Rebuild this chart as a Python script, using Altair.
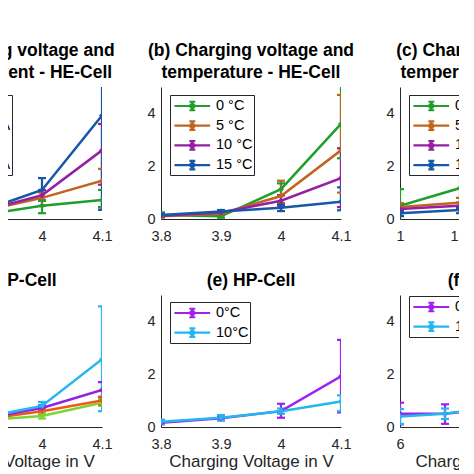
import altair as alt
import pandas as pd

# x positions
volt = [3.8, 3.9, 4.0, 4.1]
curr_he = [1.0, 1.5, 2.0, 2.5]
curr_hp = [6, 8, 10, 12, 14]

# (a) HE-Cell: charging voltage and current
a_labels = ["1 A", "1.5 A", "2 A", "2.5 A"]
a_colors = ["#1f9e2c", "#c0641e", "#951fa3", "#1658a5"]
a_mean = [[0.10, 0.15, 0.50, 0.72],
          [0.10, 0.30, 0.80, 1.45],
          [0.10, 0.30, 0.90, 2.60],
          [0.12, 0.30, 1.10, 3.92]]
a_low = [[0.05, 0.10, 0.22, 0.45],
         [0.05, 0.20, 0.50, 0.35],
         [0.05, 0.20, 0.70, 1.30],
         [0.05, 0.20, 0.70, 0.35]]
a_high = [[0.15, 0.20, 0.70, 1.10],
          [0.15, 0.40, 1.00, 1.90],
          [0.15, 0.40, 1.10, 3.60],
          [0.20, 0.40, 1.55, 5.60]]

# (b) HE-Cell: charging voltage and temperature
b_labels = ["0 °C", "5 °C", "10 °C", "15 °C"]
b_mean = [[0.15, 0.10, 1.13, 3.60],
          [0.10, 0.20, 0.87, 2.60],
          [0.12, 0.25, 0.69, 1.55],
          [0.15, 0.28, 0.43, 0.65]]
b_low = [[0.10, 0.05, 0.90, 2.30],
         [0.05, 0.15, 0.60, 1.00],
         [0.08, 0.20, 0.50, 0.45],
         [0.10, 0.22, 0.30, 0.33]]
b_high = [[0.25, 0.15, 1.35, 5.30],
          [0.15, 0.25, 1.45, 4.70],
          [0.16, 0.30, 0.90, 2.68],
          [0.20, 0.34, 0.55, 1.20]]

# (c) HE-Cell: charge current and temperature
c_mean = [[0.50, 1.17, 1.20, 1.50],
          [0.45, 0.62, 1.10, 1.60],
          [0.38, 0.50, 0.70, 0.90],
          [0.22, 0.34, 0.40, 0.50]]
c_low = [[0.10, 0.60, 0.80, 1.00],
         [0.30, 0.45, 0.80, 1.10],
         [0.28, 0.38, 0.50, 0.65],
         [0.12, 0.22, 0.30, 0.35]]
c_high = [[1.13, 1.70, 1.60, 2.00],
          [0.60, 0.80, 1.40, 2.10],
          [0.48, 0.62, 0.90, 1.15],
          [0.32, 0.45, 0.50, 0.65]]

# (d) HP-Cell: charging voltage and current
d_labels = ["2 A", "4 A", "6 A", "8 A"]
d_colors = ["#7cd434", "#ee5a14", "#8e22e6", "#25b6ee"]
d_mean = [[0.10, 0.25, 0.42, 0.92],
          [0.12, 0.28, 0.60, 1.00],
          [0.14, 0.30, 0.72, 1.40],
          [0.16, 0.35, 0.80, 2.57]]
d_low = [[0.05, 0.20, 0.32, 0.80],
         [0.08, 0.22, 0.50, 0.85],
         [0.10, 0.25, 0.62, 1.10],
         [0.10, 0.28, 0.70, 0.60]]
d_high = [[0.15, 0.30, 0.52, 1.05],
          [0.16, 0.34, 0.70, 1.15],
          [0.18, 0.35, 0.82, 1.70],
          [0.22, 0.42, 0.95, 4.57]]

# (e) HP-Cell: charging voltage and temperature
e_labels = ["0°C", "10°C"]
e_colors = ["#a020f0", "#22b8ee"]
e_mean = [[0.16, 0.33, 0.60, 1.92],
          [0.20, 0.35, 0.60, 0.97]]
e_low = [[0.10, 0.25, 0.35, 0.55],
         [0.12, 0.25, 0.50, 0.60]]
e_high = [[0.22, 0.42, 0.88, 3.30],
          [0.28, 0.45, 0.70, 1.20]]

# (f) HP-Cell: charge current and temperature
f_mean = [[0.50, 0.50, 0.70, 0.90, 1.20],
          [0.40, 0.50, 0.75, 0.90, 1.10]]
f_low = [[0.10, 0.12, 0.40, 0.60, 0.80],
         [0.12, 0.30, 0.55, 0.70, 0.85]]
f_high = [[0.92, 0.86, 1.00, 1.20, 1.60],
          [0.68, 0.70, 0.95, 1.10, 1.35]]

FONT = "Liberation Sans"
# legend glyph: line, error bar with caps, diamond marker
ERR_PATH = ("M-2.1,0H2.1M0,-0.5V0.5M-0.35,-0.5H0.35M-0.35,0.5H0.35"
            "M0,-0.32L0.32,0L0,0.32L-0.32,0Z")


def table(x, labels, mean, low, high):
    rows = []
    for k, name in enumerate(labels):
        for i, xv in enumerate(x):
            rows.append({"x": xv, "series": name, "y": mean[k][i],
                         "lo": low[k][i], "hi": high[k][i]})
    return pd.DataFrame(rows)


def panel(df, labels, colors, title, xdom, xticks, xtitle=None,
          legend_x=9, legend_y=8):
    legend = alt.Legend(orient="none", legendX=legend_x, legendY=legend_y,
                        symbolType=ERR_PATH, symbolSize=289,
                        symbolOffset=11.3, labelOffset=13.7,
                        symbolStrokeWidth=2.2, rowPadding=0.7, padding=1)
    color = alt.Color("series:N", scale=alt.Scale(domain=labels, range=colors),
                      title=None, legend=legend)
    x = alt.X("x:Q", scale=alt.Scale(domain=xdom, nice=False, zero=False),
              axis=alt.Axis(values=xticks, format="~g"), title=xtitle)
    yscale = alt.Scale(domain=[0, 5], nice=False)
    yaxis = alt.Axis(values=[0, 2, 4])

    base = alt.Chart(df)
    bars = base.mark_rule(strokeWidth=2.2, clip=True).encode(
        x=x, y=alt.Y("lo:Q", scale=yscale, axis=yaxis, title=None),
        y2="hi:Q", color=color)
    cap_lo = base.mark_point(shape="stroke", size=64, strokeWidth=2.2,
                             opacity=1, clip=True).encode(
        x=x, y=alt.Y("lo:Q", scale=yscale, title=None), color=color)
    cap_hi = base.mark_point(shape="stroke", size=64, strokeWidth=2.2,
                             opacity=1, clip=True).encode(
        x=x, y=alt.Y("hi:Q", scale=yscale, title=None), color=color)
    line = base.mark_line(strokeWidth=2.5, clip=True).encode(
        x=x, y=alt.Y("y:Q", scale=yscale, title=None), color=color)
    pts = base.mark_point(shape="diamond", filled=True, size=36,
                          opacity=1, clip=True).encode(
        x=x, y=alt.Y("y:Q", scale=yscale, title=None), color=color)

    return alt.layer(bars, cap_lo, cap_hi, line, pts).properties(
        width=180, height=132, title=alt.TitleParams(text=title))


pa = panel(table(volt, a_labels, a_mean, a_low, a_high), a_labels, a_colors,
           ["(a) Charging voltage and", "charge current - HE-Cell"],
           [3.8, 4.1], volt)
pb = panel(table(volt, b_labels, b_mean, b_low, b_high), b_labels, a_colors,
           ["(b) Charging voltage and", "temperature - HE-Cell"],
           [3.8, 4.1], volt)
pc = panel(table(curr_he, b_labels, c_mean, c_low, c_high), b_labels, a_colors,
           ["(c) Charge current and", "temperature - HE-Cell"],
           [1, 2.5], curr_he)
pd_ = panel(table(volt, d_labels, d_mean, d_low, d_high), d_labels, d_colors,
            "(d) HP-Cell", [3.8, 4.1], volt, "Charging Voltage in V",
            legend_x=13, legend_y=7)
pe = panel(table(volt, e_labels, e_mean, e_low, e_high), e_labels, e_colors,
           "(e) HP-Cell", [3.8, 4.1], volt, "Charging Voltage in V",
           legend_y=7)
pf = panel(table(curr_hp, e_labels, f_mean, f_low, f_high), e_labels, e_colors,
           "(f) HP-Cell", [6, 14], [6, 10, 14], "Charge Current in A",
           legend_y=1)

chart = alt.concat(
    pa, pb, pc, pd_, pe, pf, columns=3,
    spacing={"row": 76, "column": 59}, bounds="flush"
).resolve_scale(
    color="independent", x="independent", y="independent"
).resolve_legend(
    color="independent"
).properties(
    padding={"left": -101, "top": 33, "right": -132, "bottom": 0}
).configure_view(
    stroke=None
).configure_title(
    font=FONT, fontSize=17.5, fontWeight="bold", color="black",
    lineHeight=22, offset=6
).configure_axis(
    labelFont=FONT, labelFontSize=14.5, labelColor="#262626",
    domainColor="#262626", domainWidth=1, ticks=False, grid=False,
    titleFont=FONT, titleFontSize=17, titleFontWeight="normal",
    titleColor="#262626", titlePadding=3
).configure_axisX(
    labelPadding=10, labelFlush=False
).configure_axisY(
    labelPadding=6
).configure_legend(
    labelFont=FONT, labelFontSize=14.5, labelColor="black",
    strokeColor="#262626", fillColor="white"
)

chart.save("out.html", embed_options={"renderer": "svg", "actions": False})
